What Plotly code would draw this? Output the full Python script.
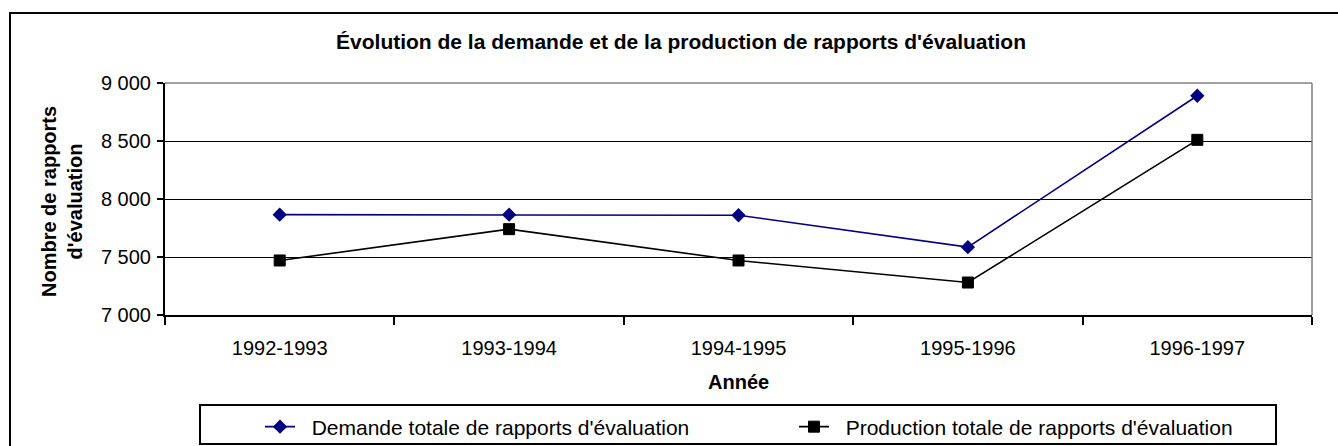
import plotly.graph_objects as go

# data
annees = ["1992-1993", "1993-1994", "1994-1995", "1995-1996", "1996-1997"]
demande = [7865, 7865, 7860, 7585, 8890]
production = [7470, 7740, 7470, 7280, 8510]

W, H = 1338, 446
# plot area in pixels
L, R, T, B = 165, 1312, 83, 315

def px_x(x):
    return (x - L) / (R - L)

def px_y(y):
    return (B - y) / (B - T)

FONT = "Liberation Sans, Arial, sans-serif"
NB = "\u00a0\u00a0"  # small gap between legend symbol and text

fig = go.Figure()

fig.add_trace(go.Scatter(
    x=annees, y=demande,
    mode="lines+markers",
    name=NB + "Demande totale de rapports d'évaluation",
    line=dict(color="#000080", width=1.6),
    marker=dict(symbol="diamond", size=11, color="#000080"),
))

fig.add_trace(go.Scatter(
    x=annees, y=production,
    mode="lines+markers",
    name=NB + "Production totale de rapports d'évaluation",
    line=dict(color="black", width=1.6),
    marker=dict(symbol="square", size=11, color="black",
                line=dict(color="black", width=1)),
))

shapes = [
    # outer frame (runs off the right and bottom edges)
    dict(type="rect", xref="paper", yref="paper",
         x0=px_x(10), x1=px_x(1350), y0=px_y(455), y1=px_y(13),
         line=dict(color="black", width=2)),
    # top and right border of plot area
    dict(type="line", xref="paper", yref="paper",
         x0=0, x1=1, y0=1, y1=1, line=dict(color="#808080", width=1.5)),
    dict(type="line", xref="paper", yref="paper",
         x0=1, x1=1, y0=0, y1=1, line=dict(color="#808080", width=1.5)),
    # legend box
    dict(type="rect", xref="paper", yref="paper",
         x0=px_x(200), x1=px_x(1276), y0=px_y(444), y1=px_y(405),
         line=dict(color="black", width=2)),
]

annotations = [
    dict(text="<b>Nombre de rapports<br>d'évaluation</b>",
         xref="paper", yref="paper", x=px_x(62), y=px_y(202),
         textangle=-90, showarrow=False, xanchor="center", yanchor="middle",
         font=dict(size=20, family=FONT, color="black")),
    dict(text="<b>Année</b>",
         xref="paper", yref="paper", x=px_x(738), y=px_y(382),
         showarrow=False, xanchor="center", yanchor="middle",
         font=dict(size=20, family=FONT, color="black")),
]

fig.update_layout(
    width=W, height=H,
    margin=dict(l=L, r=W - R, t=T, b=H - B),
    paper_bgcolor="white", plot_bgcolor="white",
    font=dict(family=FONT, size=20, color="black"),
    separators=", ",
    title=dict(text="<b>Évolution de la demande et de la production de rapports d'évaluation</b>",
               x=681 / W, xanchor="center", xref="container",
               y=1 - 42 / H, yanchor="middle", yref="container",
               font=dict(size=21, family=FONT, color="black")),
    xaxis=dict(type="category", range=[-0.5, 4.5],
               showline=True, linecolor="black", linewidth=2,
               ticks="outside", tickson="boundaries", ticklen=8,
               tickcolor="black", tickwidth=1.5,
               showgrid=False, zeroline=False,
               ticklabelstandoff=14),
    yaxis=dict(range=[7000, 9000], dtick=500, tickformat=",d",
               showline=True, linecolor="black", linewidth=2,
               ticks="outside", ticklen=6, tickcolor="black", tickwidth=1.5,
               showgrid=True, gridcolor="black", gridwidth=1,
               zeroline=False, ticklabelstandoff=2),
    showlegend=True,
    legend=dict(orientation="h", xref="container", yref="container",
                x=260 / W, xanchor="left", y=1 - 427 / H, yanchor="middle",
                entrywidth=489, bgcolor="rgba(0,0,0,0)", borderwidth=0,
                font=dict(size=21, family=FONT, color="black")),
    shapes=shapes,
    annotations=annotations,
)

# the page body has a default 8px margin; remove it so the chart sits at 0,0
fig.write_html("out.html", config={"displayModeBar": False},
               post_script="document.body.style.margin='0';")
